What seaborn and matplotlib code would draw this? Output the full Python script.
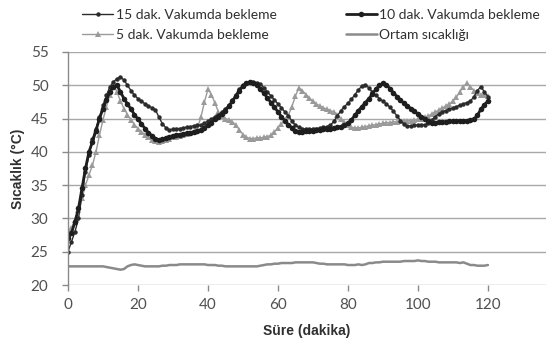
import numpy as np
import pandas as pd
import matplotlib
matplotlib.use("Agg")
import matplotlib.pyplot as plt
import seaborn as sns

# ---- data (minutes 0..120) ----
minutes = list(range(0, 121))

dak15 = [25.0, 26.5, 28.0, 30.0, 33.5, 37.0, 39.5, 42.0, 43.5, 45.2,
         47.0, 48.5, 49.8, 50.5, 51.0, 51.2, 50.8, 50.0, 49.2, 48.5,
         48.0, 47.6, 47.2, 46.9, 46.6, 46.3, 45.2, 44.2, 43.6, 43.3,
         43.4, 43.5, 43.5, 43.6, 43.7, 43.8, 43.9, 44.0, 44.0, 44.3,
         44.6, 44.9, 45.3, 45.6, 46.0, 46.5, 47.0, 47.8, 48.6, 49.4,
         50.0, 50.4, 50.5, 50.5, 50.4, 50.2, 49.6, 49.0, 48.4, 47.8,
         47.2, 46.6, 46.0, 45.4, 44.6, 44.0, 43.7, 43.5, 43.4, 43.4,
         43.5, 43.5, 43.6, 43.7, 43.8, 44.0, 44.6, 45.4, 46.2, 46.8,
         47.3, 47.9, 48.6, 49.3, 49.9, 50.1, 49.6, 49.0, 48.5, 48.0,
         47.6, 47.2, 46.7, 46.1, 45.4, 44.7, 44.2, 43.9, 43.9, 44.0,
         44.0, 44.1, 44.1, 44.3, 44.8, 45.3, 45.7, 46.0, 46.2, 46.4,
         46.6, 46.8, 47.0, 47.2, 47.4, 47.6, 48.3, 49.2, 49.8, 49.0,
         48.3]

dak10 = [27.0, 27.8, 29.5, 31.5, 34.5, 37.5, 40.0, 41.5, 43.2, 45.0,
         46.5, 47.8, 49.0, 49.8, 50.0, 49.0, 48.0, 47.2, 46.4, 45.6,
         44.9, 44.2, 43.5, 42.9, 42.4, 42.0, 41.8, 41.9, 42.1, 42.3,
         42.4, 42.5, 42.6, 42.7, 42.8, 42.9, 43.0, 43.1, 43.3, 43.6,
         44.0, 44.4, 44.9, 45.3, 45.7, 46.2, 46.9, 47.6, 48.4, 49.2,
         49.9, 50.3, 50.5, 50.4, 50.0, 49.4, 48.8, 48.1, 47.4, 46.7,
         46.0, 45.3, 44.6, 44.1, 43.6, 43.2, 43.0, 43.0, 43.1, 43.1,
         43.2, 43.3, 43.3, 43.4, 43.4, 43.5, 43.6, 43.7, 43.8, 44.0,
         44.3, 44.8, 45.5, 46.2, 46.8, 47.4, 48.0, 48.7, 49.4, 50.0,
         50.3, 50.1, 49.5, 48.9, 48.3, 47.8, 47.3, 46.9, 46.5, 46.1,
         45.7, 45.3, 45.0, 44.6, 44.4, 44.4, 44.5, 44.5, 44.5, 44.6,
         44.6, 44.6, 44.7, 44.7, 44.7, 44.8, 44.9, 45.5, 46.4, 47.1,
         47.6]

dak5 = [27.8, 28.5, 29.8, 31.2, 33.0, 35.0, 36.5, 38.0, 40.0, 42.5,
        44.8, 46.8, 48.6, 50.0, 49.0, 47.6, 46.5, 45.6, 44.8, 44.1,
        43.5, 43.0, 42.6, 42.2, 41.8, 41.6, 41.5, 41.6, 41.8, 42.0,
        42.2, 42.3, 42.4, 42.6, 42.7, 42.8, 43.0, 43.6, 45.2, 47.5,
        49.4, 48.6, 47.3, 46.0, 45.4, 45.0, 44.8, 44.5, 44.0, 43.3,
        42.6, 42.2, 42.0, 42.0, 42.1, 42.1, 42.2, 42.3, 42.5, 43.0,
        43.6, 44.2, 44.8, 45.5, 46.8, 48.4, 49.6, 49.2, 48.6, 48.1,
        47.6, 47.2, 46.9, 46.6, 46.4, 46.2, 46.0, 45.6, 45.0, 44.5,
        44.0, 43.7, 43.6, 43.6, 43.7, 43.8, 43.9, 44.0, 44.1, 44.2,
        44.3, 44.4, 44.4, 44.5, 44.5, 44.6, 44.6, 44.7, 44.7, 44.8,
        44.9, 45.0, 45.2, 45.4, 45.7, 46.0, 46.3, 46.6, 46.9, 47.2,
        47.6, 48.2, 49.0, 49.8, 50.3, 49.8, 49.2, 48.8, 48.6, 48.5,
        48.4]

ortam = [22.8, 22.8, 22.8, 22.8, 22.8, 22.8, 22.8, 22.8, 22.8, 22.8,
         22.8, 22.7, 22.6, 22.5, 22.4, 22.3, 22.4, 22.8, 23.0, 23.1,
         23.0, 22.9, 22.8, 22.8, 22.8, 22.8, 22.8, 22.9, 22.9, 23.0,
         23.0, 23.0, 23.1, 23.1, 23.1, 23.1, 23.1, 23.1, 23.1, 23.1,
         23.0, 23.0, 23.0, 22.9, 22.9, 22.8, 22.8, 22.8, 22.8, 22.8,
         22.8, 22.8, 22.8, 22.8, 22.8, 22.9, 23.0, 23.1, 23.1, 23.2,
         23.2, 23.3, 23.3, 23.3, 23.3, 23.4, 23.4, 23.4, 23.4, 23.4,
         23.4, 23.3, 23.2, 23.2, 23.1, 23.1, 23.1, 23.1, 23.1, 23.1,
         23.0, 23.0, 23.0, 23.1, 23.0, 23.1, 23.3, 23.3, 23.4, 23.4,
         23.5, 23.5, 23.5, 23.5, 23.5, 23.5, 23.6, 23.6, 23.6, 23.6,
         23.7, 23.6, 23.6, 23.5, 23.5, 23.5, 23.4, 23.4, 23.4, 23.4,
         23.4, 23.4, 23.3, 23.4, 23.2, 23.0, 23.0, 22.9, 22.9, 22.9,
         23.0]

series_names = ["15 dak. Vakumda bekleme", "10 dak. Vakumda bekleme",
                "5 dak. Vakumda bekleme", "Ortam sıcaklığı"]
x_ticks = [0, 20, 40, 60, 80, 100, 120]
y_ticks = [20, 25, 30, 35, 40, 45, 50, 55]

df = pd.DataFrame({"t": minutes, series_names[0]: dak15, series_names[1]: dak10,
                   series_names[2]: dak5, series_names[3]: ortam})

sns.set_theme(style="white")
plt.rcParams["font.family"] = ["Lato", "DejaVu Sans"]

fig = plt.figure(figsize=(5.46, 3.44), dpi=100)
ax = fig.add_axes([0.1245, 0.1715, 0.8755, 0.6775])

styles = {
    series_names[0]: dict(color="#2b2b2b", lw=1.0, marker="o", ms=3.2, mew=0),
    series_names[1]: dict(color="#1e1e1e", lw=2.0, marker="o", ms=4.0, mew=0),
    series_names[2]: dict(color="#9a9a9a", lw=1.0, marker="^", ms=3.8, mew=0),
    series_names[3]: dict(color="#8a8a8a", lw=1.8, marker="", ms=0, mew=0),
}
order = [series_names[3], series_names[2], series_names[0], series_names[1]]
for name in order:
    st = styles[name]
    sns.lineplot(data=df, x="t", y=name, ax=ax, color=st["color"], linewidth=st["lw"],
                 marker=st["marker"] if st["marker"] else None, markersize=st["ms"],
                 markeredgewidth=st["mew"], label=name, legend=False)

ax.set_xlim(0, 136.6)
ax.set_ylim(20, 55)
ax.set_xticks(x_ticks)
ax.set_yticks(y_ticks)
ax.yaxis.grid(True, color="#a8a8a8", linewidth=1.0)
ax.xaxis.grid(False)
for s in ["top", "right", "bottom"]:
    ax.spines[s].set_visible(False)
ax.spines["left"].set_color("#8a8a8a")
ax.spines["left"].set_linewidth(1.0)
ax.tick_params(axis="both", which="both", length=4, width=1.0, color="#8a8a8a",
               labelsize=11, labelcolor="#505050", direction="out")
ax.tick_params(axis="x", bottom=True, pad=5)
ax.tick_params(axis="y", left=True, pad=10)
ax.set_xlabel("Süre (dakika)", fontsize=10, fontweight="bold", color="#303030",
              family=["Liberation Sans", "DejaVu Sans"], labelpad=9)
ax.set_ylabel("Sıcaklık (°C)", fontsize=10, fontweight="bold", color="#303030",
              family=["Liberation Sans", "DejaVu Sans"], labelpad=4)

handles = {}
for line in ax.get_lines():
    handles[line.get_label()] = line
# legend rows: (15, 10) / (5, Ortam); matplotlib fills columns first
leg_order = [series_names[0], series_names[2], series_names[1], series_names[3]]
fig.legend([handles[n] for n in leg_order], leg_order, ncol=2, loc="upper left",
           bbox_to_anchor=(0.128, 1.01), frameon=False, fontsize=10,
           handlelength=2.2, handletextpad=0.2, columnspacing=5.0, labelspacing=0.55,
           labelcolor="#303030")

fig.savefig("out.png", dpi=100)
